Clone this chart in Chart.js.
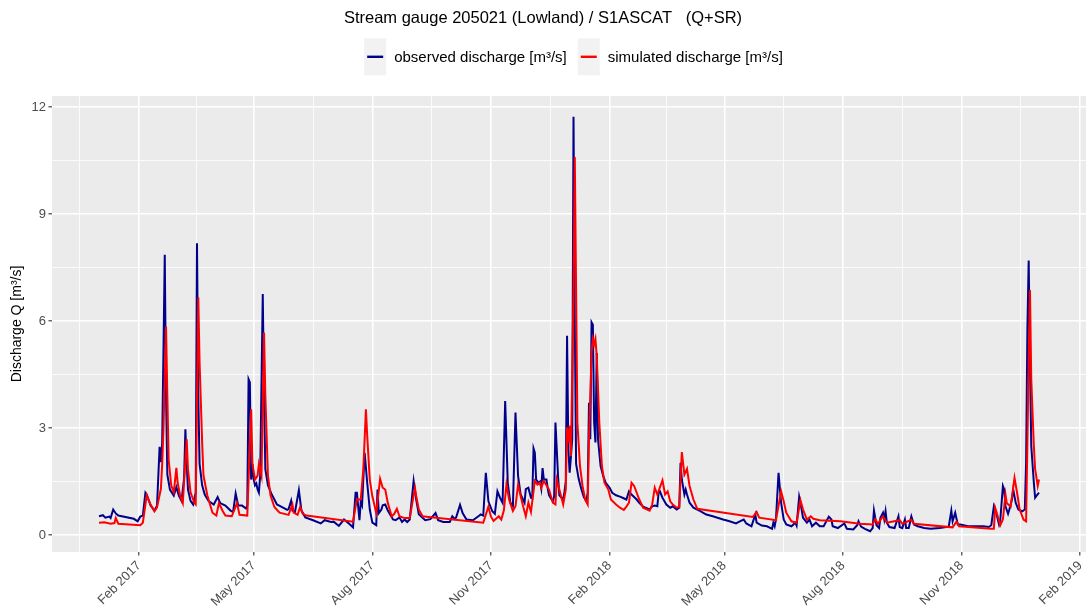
<!DOCTYPE html>
<html>
<head>
<meta charset="utf-8">
<title>Stream gauge 205021</title>
<script src="https://cdn.jsdelivr.net/npm/chart.js@4/dist/chart.umd.min.js"></script>
<style>
  html, body { margin: 0; padding: 0; background: #ffffff; }
  #wrap { width: 1089px; height: 611px; }
</style>
</head>
<body>
<div id="wrap"><canvas id="chart" width="1089" height="611"></canvas></div>
<script>
// ---- data (day = days since 2017-01-01) ----
const chartTitle = 'Stream gauge 205021 (Lowland) / S1ASCAT   (Q+SR)';
const yAxisTitle = 'Discharge Q [m\u00B3/s]';
const seriesNames = ['observed discharge [m\u00B3/s]', 'simulated discharge [m\u00B3/s]'];

const obsDays = [0,3,5,8,9,11,13,15,27,30,32,34,36,37,40,43,45,47,48,49,50,51,52,53,55,58,60,62,64,66,67,68,69,71,73,75,76,77,78,80,82,85,89,92,94,98,102,104,106,108,111,114,115,116,117,118,119,120,121,122,123,124,125,127,128,129,131,134,138,142,146,147,149,150,152,155,157,160,166,172,175,180,182,186,190,194,197,199,200,202,203,204,206,208,210,212,215,216,217,219,220,222,224,228,230,233,235,237,239,241,244,246,248,253,257,261,263,267,272,274,276,277,280,282,285,290,295,296,298,300,302,305,307,309,311,313,315,317,319,321,323,325,327,330,331,333,335,336,337,338,339,341,342,343,344,345,347,348,349,352,353,354,356,357,360,361,362,363,364,365,366,367,368,369,370,372,374,376,378,379,380,381,382,383,384,385,386,387,389,391,393,396,398,401,404,406,409,411,413,417,419,422,427,429,431,433,434,435,437,440,443,445,448,450,451,452,454,455,456,458,461,466,471,476,484,489,494,497,500,502,506,509,510,514,518,522,523,524,525,527,529,531,533,537,540,541,543,544,546,549,551,553,556,559,562,566,568,569,573,578,580,585,588,589,591,594,598,600,601,603,605,606,608,609,610,611,613,617,620,621,623,625,626,628,630,632,635,640,645,652,659,661,662,664,666,668,674,680,686,690,692,694,696,698,699,701,702,703,705,706,708,709,711,713,716,718,719,720,721,722,723,725,726,727,729];
const obsValues = [0.53,0.56,0.49,0.52,0.48,0.72,0.61,0.55,0.46,0.39,0.52,0.55,1.19,1.14,0.83,0.69,0.83,2.48,2.05,2.6,5.2,7.86,3.9,1.7,1.28,1.11,1.35,1.1,0.96,1.6,2.97,2.0,1.28,0.96,0.86,1.2,8.18,3.9,2.0,1.4,1.14,0.96,0.86,1.07,0.9,0.83,0.69,0.65,1.17,0.83,0.83,0.75,0.83,4.37,4.28,1.56,2.0,1.56,1.4,1.45,1.28,1.19,1.67,6.76,3.9,1.85,1.4,1.14,0.86,0.79,0.71,0.73,0.96,0.69,0.65,1.26,0.69,0.5,0.42,0.33,0.42,0.37,0.38,0.26,0.44,0.32,0.22,1.19,1.19,0.42,0.94,0.84,2.31,1.47,0.72,0.35,0.28,1.28,0.62,0.72,0.84,0.86,0.69,0.44,0.42,0.5,0.37,0.44,0.37,0.44,1.52,1.0,0.59,0.42,0.45,0.62,0.42,0.37,0.37,0.53,0.45,0.5,0.85,0.62,0.44,0.42,0.55,0.58,0.55,1.75,0.95,0.67,0.6,1.23,1.05,0.91,3.76,1.47,0.91,0.82,3.44,1.66,1.14,0.91,1.29,1.33,1.05,1.03,2.43,2.31,1.56,1.47,1.5,1.31,1.88,1.56,1.56,1.31,1.12,0.94,1.1,3.16,1.66,1.12,1.0,1.22,1.5,5.59,2.4,1.75,2.2,2.69,11.73,6.0,2.0,1.58,1.3,1.07,0.95,1.2,3.71,2.69,5.97,5.9,3.16,2.6,5.11,2.69,1.94,1.66,1.47,1.33,1.19,1.12,1.08,1.05,1.0,1.23,1.14,1.0,0.91,0.8,0.72,0.81,0.83,0.81,1.19,1.23,1.05,0.86,0.77,0.81,0.72,0.77,2.03,1.56,1.14,1.28,1.14,0.91,0.77,0.68,0.58,0.53,0.44,0.39,0.33,0.39,0.44,0.33,0.25,0.58,0.35,0.27,0.25,0.18,0.35,0.25,0.44,1.75,0.91,0.44,0.3,0.25,0.35,0.27,1.08,0.91,0.49,0.35,0.44,0.25,0.35,0.25,0.25,0.52,0.44,0.25,0.2,0.33,0.18,0.16,0.28,0.39,0.24,0.18,0.11,0.2,0.69,0.28,0.2,0.49,0.63,0.44,0.67,0.35,0.23,0.2,0.53,0.23,0.2,0.44,0.2,0.2,0.53,0.3,0.25,0.2,0.18,0.2,0.24,0.69,0.39,0.63,0.3,0.3,0.25,0.25,0.25,0.23,0.28,0.81,0.6,0.3,0.44,1.38,1.28,0.81,0.6,0.72,1.0,1.28,0.9,0.72,0.67,0.72,2.03,5.78,7.7,4.84,2.5,1.47,1.05,1.1,1.19];

const simDays = [0,4,9,12,13,15,32,34,37,40,43,45,48,49,50,52,53,54,56,58,60,61,63,65,68,69,71,74,75,77,78,80,81,84,88,91,93,96,98,103,107,109,115,118,119,121,123,124,126,128,129,131,133,136,140,147,150,151,154,156,158,161,197,200,203,205,207,208,210,212,215,218,220,222,224,227,229,231,233,237,241,245,246,248,251,254,298,302,304,306,310,312,314,316,318,321,323,325,327,329,331,333,335,338,340,342,343,345,347,349,352,354,355,357,360,362,363,364,365,366,368,369,370,371,373,375,377,379,380,382,383,384,385,386,388,390,392,395,397,401,404,407,409,411,413,415,417,419,422,427,429,431,433,437,439,441,443,445,448,450,452,454,456,458,461,464,507,510,512,525,529,531,533,537,541,544,546,549,552,554,559,575,590,600,602,604,608,611,621,623,630,632,662,665,667,692,694,695,697,699,701,703,704,707,710,712,714,717,719,720,721,722,723,725,726,728,729];
const simValues = [0.35,0.36,0.32,0.34,0.48,0.32,0.28,0.35,1.12,0.86,0.67,0.78,1.3,2.0,2.97,5.85,3.9,2.12,1.4,1.2,1.89,1.47,1.1,0.9,2.69,1.85,1.2,0.9,0.86,6.67,4.84,2.6,1.68,1.12,0.63,0.55,0.9,0.67,0.55,0.53,0.9,0.57,0.55,3.53,2.0,1.56,1.67,2.0,1.67,5.68,3.9,1.68,1.12,0.79,0.63,0.57,0.86,0.63,0.57,0.79,0.6,0.55,0.38,1.0,1.0,1.85,3.53,2.79,1.56,1.09,0.62,1.58,1.33,1.28,0.9,0.53,0.6,0.74,0.53,0.48,0.48,1.33,1.1,0.72,0.53,0.52,0.35,0.8,0.52,0.4,0.53,0.44,0.7,1.43,1.0,0.68,0.81,1.42,1.1,0.8,0.53,0.91,0.65,1.52,1.42,1.47,1.33,1.52,1.4,1.28,0.91,0.86,1.56,1.28,0.86,1.28,3.02,2.6,3.07,2.22,6.9,10.6,6.9,3.16,1.94,1.38,1.0,0.86,2.7,5.1,5.5,5.35,5.5,5.03,3.16,1.94,1.47,1.28,1.0,0.86,0.77,0.71,0.8,0.91,1.47,1.38,1.19,1.0,0.77,0.69,0.86,1.33,1.14,1.54,1.14,1.23,0.95,0.86,0.77,0.79,2.33,1.7,1.86,1.38,1.0,0.74,0.51,0.65,0.49,0.42,1.23,0.95,0.63,0.39,0.35,0.98,0.72,0.44,0.53,0.46,0.42,0.39,0.32,0.3,0.45,0.32,0.53,0.35,0.42,0.32,0.43,0.32,0.22,0.38,0.25,0.18,0.18,0.77,0.53,0.28,0.44,1.14,0.9,0.8,1.61,1.19,0.72,0.44,0.39,2.6,4.84,6.87,4.37,2.5,1.85,1.38,1.56];

// tick positions (days since 2017-01-01) and labels
const xTickDays = [31,120,212,304,396,485,577,669,761];
const xTickLabels = ['Feb 2017','May 2017','Aug 2017','Nov 2017','Feb 2018','May 2018','Aug 2018','Nov 2018','Feb 2019'];
const xMinorDays = [-15,75.5,166,258,350,440.5,531,623,715];
const yTicks = [0,3,6,9,12];
const yTickLabels = ['0','3','6','9','12'];
const yMinorTicks = [1.5,4.5,7.5,10.5];

// ---- ggplot-like expanded ranges ----
const allDays = obsDays.concat(simDays);
const allVals = obsValues.concat(simValues);
const dMin = Math.min(...allDays), dMax = Math.max(...allDays);
const vMin = Math.min(...allVals), vMax = Math.max(...allVals);
const xPad = (dMax - dMin) * 0.05, yPad = (vMax - vMin) * 0.05;

const FONT = '"Liberation Sans", Arial, Helvetica, sans-serif';
const xMajorSet = new Set(xTickDays);
const yMajorSet = new Set(yTicks);

function gridOpts(majorSet) {
  return {
    color: '#FFFFFF',
    lineWidth: c => (c.tick && majorSet.has(c.tick.value)) ? 1.6 : 0.8,
    drawTicks: true,
    tickLength: 3.5,
    tickWidth: 1.1,
    tickColor: c => (c.tick && majorSet.has(c.tick.value)) ? '#333333' : 'rgba(0,0,0,0)'
  };
}

const ggPlugin = {
  id: 'ggStyle',
  beforeDraw(chart) {
    const { ctx, chartArea: a } = chart;
    ctx.save();
    ctx.fillStyle = '#EBEBEB';
    ctx.fillRect(a.left, a.top, a.right - a.left, a.bottom - a.top);
    ctx.restore();
  },
  afterDraw(chart) {
    const { ctx, chartArea: a } = chart;
    ctx.save();
    ctx.font = '15px ' + FONT;
    const items = chart.data.datasets.map(ds => ({
      text: ds.label, color: ds.borderColor, w: ctx.measureText(ds.label).width
    }));
    const keyW = 22, keyH = 37, gapKT = 8, gapItems = 11;
    const total = items.reduce((s, it) => s + keyW + gapKT + it.w, 0) + gapItems * (items.length - 1);
    let x = (a.left + a.right) / 2 + 4.5 - total / 2;
    const keyC = 56.8, textC = 58.3;
    items.forEach(it => {
      ctx.fillStyle = '#F2F2F2';
      ctx.fillRect(x, keyC - keyH / 2, keyW, keyH);
      ctx.strokeStyle = it.color;
      ctx.lineWidth = 2.4;
      ctx.beginPath();
      ctx.moveTo(x + 3, keyC);
      ctx.lineTo(x + keyW - 3, keyC);
      ctx.stroke();
      ctx.fillStyle = '#000000';
      ctx.textBaseline = 'middle';
      ctx.textAlign = 'left';
      ctx.fillText(it.text, x + keyW + gapKT, textC);
      x += keyW + gapKT + it.w + gapItems;
    });
    ctx.restore();
  }
};

const obsData = obsDays.map((d, i) => ({ x: d, y: obsValues[i] }));
const simData = simDays.map((d, i) => ({ x: d, y: simValues[i] }));

new Chart(document.getElementById('chart'), {
  type: 'line',
  data: {
    datasets: [
      { label: seriesNames[0], data: obsData, borderColor: '#00008B', backgroundColor: '#00008B',
        borderWidth: 2, pointRadius: 0, tension: 0, fill: false, order: 2 },
      { label: seriesNames[1], data: simData, borderColor: '#FF0000', backgroundColor: '#FF0000',
        borderWidth: 2, pointRadius: 0, tension: 0, fill: false, order: 1 }
    ]
  },
  options: {
    responsive: false,
    devicePixelRatio: 1,
    animation: false,
    events: [],
    parsing: false,
    normalized: true,
    layout: { padding: { left: 0, right: 3, top: 0, bottom: 0 } },
    plugins: {
      legend: { display: false },
      tooltip: { enabled: false },
      title: {
        display: true,
        text: chartTitle,
        color: '#000000',
        font: { family: FONT, size: 16.5, weight: 'normal' },
        padding: { top: 9, bottom: 67.2 }
      }
    },
    scales: {
      x: {
        type: 'linear',
        min: dMin - xPad,
        max: dMax + xPad,
        afterBuildTicks: s => {
          const vals = xTickDays.concat(xMinorDays).filter(v => v >= s.min && v <= s.max).sort((p, q) => p - q);
          s.ticks = vals.map(v => ({ value: v }));
        },
        afterFit: s => { s.height = 59; s.paddingLeft = 0; s.paddingRight = 0; },
        ticks: {
          autoSkip: false,
          maxRotation: 45,
          minRotation: 45,
          padding: 2.5,
          color: '#4D4D4D',
          font: { family: FONT, size: 13 },
          callback: v => { const i = xTickDays.indexOf(v); return i >= 0 ? xTickLabels[i] : ''; }
        },
        grid: gridOpts(xMajorSet),
        border: { display: false }
      },
      y: {
        type: 'linear',
        min: vMin - yPad,
        max: vMax + yPad,
        afterBuildTicks: s => {
          const vals = yTicks.concat(yMinorTicks).filter(v => v >= s.min && v <= s.max).sort((p, q) => p - q);
          s.ticks = vals.map(v => ({ value: v }));
        },
        afterFit: s => { s.width = 52; s.paddingTop = 0; s.paddingBottom = 0; },
        ticks: {
          padding: 2.5,
          color: '#4D4D4D',
          font: { family: FONT, size: 13 },
          callback: v => { const i = yTicks.indexOf(v); return i >= 0 ? yTickLabels[i] : ''; }
        },
        title: {
          display: true,
          text: yAxisTitle,
          color: '#000000',
          font: { family: FONT, size: 14 },
          padding: { top: 9, bottom: 0 }
        },
        grid: gridOpts(yMajorSet),
        border: { display: false }
      }
    }
  },
  plugins: [ggPlugin]
});
</script>
</body>
</html>
